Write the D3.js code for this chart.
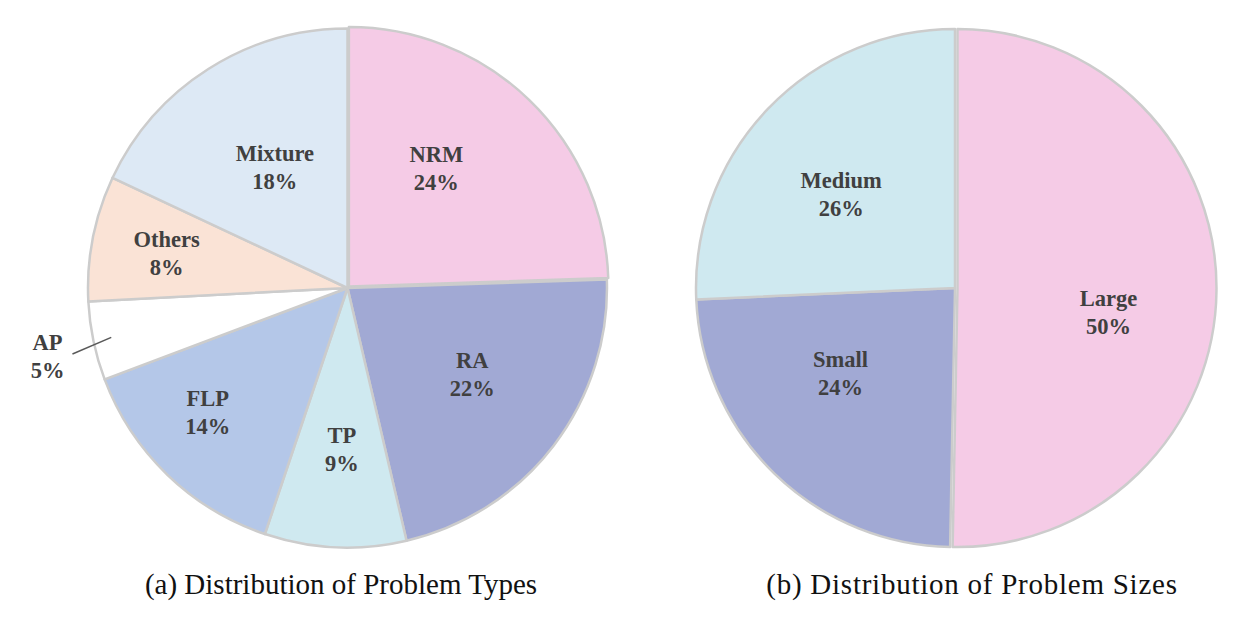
<!DOCTYPE html>
<html>
<head>
<meta charset="utf-8">
<script src="https://cdn.jsdelivr.net/npm/d3@7"></script>
<style>
  html, body { margin: 0; padding: 0; background: #fff; }
  svg { display: block; }
</style>
</head>
<body>
<svg id="chart" width="1234" height="630"></svg>
<script>
// ---- Data (shares; labels show rounded %) ----
const typeCategories = ["NRM", "RA", "TP", "FLP", "AP", "Others", "Mixture"];
const typeValues = [24.45, 21.85, 8.8, 14.1, 4.9, 7.8, 18.0];
const sizeCategories = ["Large", "Small", "Medium"];
const sizeValues = [50.3, 24.0, 25.7];
const captions = ["(a) Distribution of Problem Types", "(b) Distribution of Problem Sizes"];

// ---- Styling / layout ----
const typeColors = ["#f5cbe6", "#a1a9d4", "#cfe9f0", "#b4c7e8", "#ffffff", "#fae3d6", "#dde9f5"];
const sizeColors = ["#f5cbe6", "#a1a9d4", "#cfe9f0"];
// label placement: radius factor and angle nudge (degrees); outside = leader line
const typeLabelLayout = [
  {r: 0.575, da: -7.5}, {r: 0.583, da: -3}, {r: 0.62, da: -0.7}, {r: 0.72, da: 4.5},
  {r: 1.185, da: -0.9, outside: true}, {r: 0.71, da: 0}, {r: 0.545, da: 1.5}
];
const sizeLabelLayout = [{r: 0.60, da: 8.4}, {r: 0.55, da: 9.2}, {r: 0.57, da: -4.2}];
const typeExplode = [2, 0, 0, 0, 0, 0, 0];
const sizeExplode = [2.5, 0, 0];
const FONT = "'Liberation Serif', 'Times New Roman', Times, serif";

const svg = d3.select("#chart");

function polar(cx, cy, rad, ang) {
  return [cx + rad * Math.sin(ang), cy - rad * Math.cos(ang)];
}

function drawPie(cats, vals, colors, layout, explode, cx, cy, R, caption, capX, capSpacing) {
  const pie = d3.pie().sort(null).value(d => d.v).startAngle(0).endAngle(2 * Math.PI);
  const data = pie(cats.map((c, i) => ({c, v: vals[i], i})));
  const arc = d3.arc().innerRadius(0).outerRadius(R);
  const g = svg.append("g").attr("transform", `translate(${cx},${cy})`);

  g.selectAll("path.slice").data(data).join("path")
    .attr("class", "slice")
    .attr("d", arc)
    .attr("transform", d => {
      const m = (d.startAngle + d.endAngle) / 2;
      const e = explode[d.data.i];
      return `translate(${e * Math.sin(m)},${-e * Math.cos(m)})`;
    })
    .attr("fill", d => colors[d.data.i])
    .attr("stroke", "#cccccc")
    .attr("stroke-width", 2.5)
    .attr("stroke-linejoin", "round");

  data.forEach(d => {
    const L = layout[d.data.i];
    const m = (d.startAngle + d.endAngle) / 2 + L.da * Math.PI / 180;
    const [x, y] = polar(0, 0, L.r * R, m);
    if (L.outside) {
      const p1 = polar(0, 0, 0.93 * R, m + 0.9 * Math.PI / 180);
      const p2 = polar(0, 0, 1.09 * R, m - 0.8 * Math.PI / 180);
      g.append("line")
        .attr("x1", p1[0]).attr("y1", p1[1]).attr("x2", p2[0]).attr("y2", p2[1])
        .attr("stroke", "#595959").attr("stroke-width", 1.5);
    }
    const t = g.append("text")
      .attr("x", x).attr("y", y)
      .attr("text-anchor", "middle")
      .attr("font-family", FONT)
      .attr("font-weight", "bold")
      .attr("font-size", 22.5)
      .attr("fill", "#404040");
    t.append("tspan").attr("x", x).attr("dy", -6).text(d.data.c);
    t.append("tspan").attr("x", x).attr("dy", 28).text(Math.round(d.data.v) + "%");
  });

  svg.append("text")
    .attr("x", capX).attr("y", 594)
    .attr("text-anchor", "middle")
    .attr("font-family", FONT)
    .attr("font-size", 29)
    .attr("letter-spacing", capSpacing)
    .attr("fill", "#111")
    .text(caption);
}

drawPie(typeCategories, typeValues, typeColors, typeLabelLayout, typeExplode, 347.5, 288, 259.5, captions[0], 341, 0);
drawPie(sizeCategories, sizeValues, sizeColors, sizeLabelLayout, sizeExplode, 955, 288, 259, captions[1], 972, 0.75);
</script>
</body>
</html>
